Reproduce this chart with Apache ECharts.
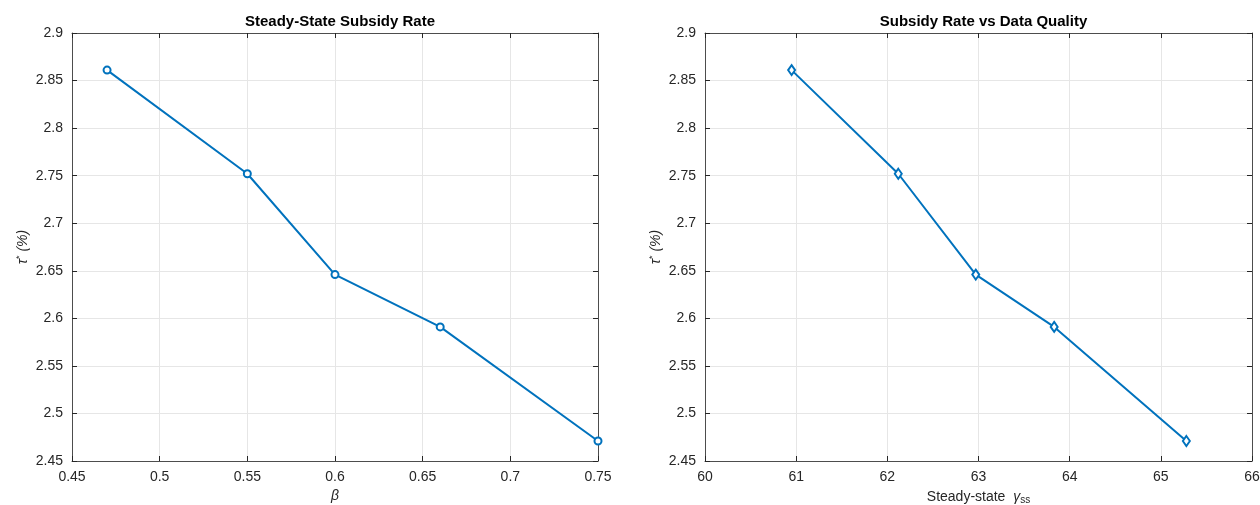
<!DOCTYPE html>
<html>
<head>
<meta charset="utf-8">
<script src="https://cdn.jsdelivr.net/npm/echarts@6/dist/echarts.min.js"></script>
<style>
  html, body { margin: 0; padding: 0; background: #fff; }
  #chart { width: 1260px; height: 505px; }
</style>
</head>
<body>
<div id="chart"></div>
<script>
// values
const betaValues = [0.47, 0.55, 0.60, 0.66, 0.75];
const gammaValues = [60.95, 62.12, 62.97, 63.83, 65.28];
const tauValues = [2.861, 2.752, 2.646, 2.591, 2.471];

const titles = ['Steady-State Subsidy Rate', 'Subsidy Rate vs Data Quality'];
const lineColor = '#0072BD';
const textColor = '#262626';
const font = 'Helvetica, Arial, "Liberation Sans", sans-serif';

const chart = echarts.init(document.getElementById('chart'));

const grids = [
  { left: 72, top: 33, width: 526, height: 428, outerBoundsMode: 'none' },
  { left: 705, top: 33, width: 547, height: 428, outerBoundsMode: 'none' }
];

function baseX(gi, min, max, interval, dec) {
  return {
    type: 'value', gridIndex: gi, min: min, max: max, interval: interval,
    axisLine: { show: true, onZero: false, lineStyle: { color: '#262626', width: 0.8 } },
    axisTick: { show: true, inside: true, length: 5, lineStyle: { color: '#262626' } },
    axisLabel: {
      color: textColor, fontSize: 14, fontFamily: font, margin: 9,
      formatter: v => dec == null ? String(v) : String(+v.toFixed(dec))
    },
    splitLine: { show: true, lineStyle: { color: '#e6e6e6', width: 1 } }
  };
}
function mirror(ax, pos) {
  return Object.assign({}, ax, {
    position: pos, axisLabel: { show: false }, splitLine: { show: false }, name: ''
  });
}

const yName = {
  name: '{t|τ}{s|*}{t| (%)}',
  nameLocation: 'middle', nameGap: 40, nameRotate: 90,
  nameTextStyle: {
    rich: {
      t: { fontSize: 14, color: textColor, fontFamily: font, fontStyle: 'italic' },
      s: { fontSize: 9, color: textColor, fontFamily: font, verticalAlign: 'top', padding: [0, 0, 8, 0] }
    }
  }
};

const xAxes = [];
const yAxes = [];
const xL = Object.assign(baseX(0, 0.45, 0.75, 0.05, 2), {
  position: 'bottom', name: 'β', nameLocation: 'middle', nameGap: 27,
  nameTextStyle: { fontSize: 14, color: textColor, fontStyle: 'italic', fontFamily: font }
});
const xR = Object.assign(baseX(1, 60, 66, 1, 0), {
  position: 'bottom', name: '{n|Steady-state  }{g|γ}{s|ss}', nameLocation: 'middle', nameGap: 28,
  nameTextStyle: {
    rich: {
      n: { fontSize: 14, color: textColor, fontFamily: font },
      g: { fontSize: 14, color: textColor, fontFamily: font, fontStyle: 'italic' },
      s: { fontSize: 10, color: textColor, fontFamily: font, verticalAlign: 'bottom', padding: [6, 0, 0, 0] }
    }
  }
});
xAxes.push(xL, mirror(xL, 'top'), xR, mirror(xR, 'top'));

[0, 1].forEach(gi => {
  const y = Object.assign(baseX(gi, 2.45, 2.9, 0.05, 2), { position: 'left' }, yName);
  yAxes.push(y, mirror(y, 'right'));
});

chart.setOption({
  animation: false,
  title: titles.map((t, i) => ({
    text: t,
    left: grids[i].left + grids[i].width / 2,
    textAlign: 'center',
    top: 9,
    textStyle: { fontSize: 15, fontWeight: 'bold', color: '#000', fontFamily: font }
  })),
  grid: grids,
  xAxis: xAxes,
  yAxis: yAxes,
  series: [
    {
      type: 'line', xAxisIndex: 0, yAxisIndex: 0,
      data: betaValues.map((b, i) => [b, tauValues[i]]),
      symbol: 'circle', symbolSize: 7, showAllSymbol: true,
      lineStyle: { color: lineColor, width: 2 },
      itemStyle: { color: '#fff', borderColor: lineColor, borderWidth: 2 }
    },
    {
      type: 'line', xAxisIndex: 2, yAxisIndex: 2,
      data: gammaValues.map((g, i) => [g, tauValues[i]]),
      symbol: 'diamond', symbolSize: [7, 10], showAllSymbol: true,
      lineStyle: { color: lineColor, width: 2 },
      itemStyle: { color: '#fff', borderColor: lineColor, borderWidth: 2 }
    }
  ]
});
</script>
</body>
</html>
